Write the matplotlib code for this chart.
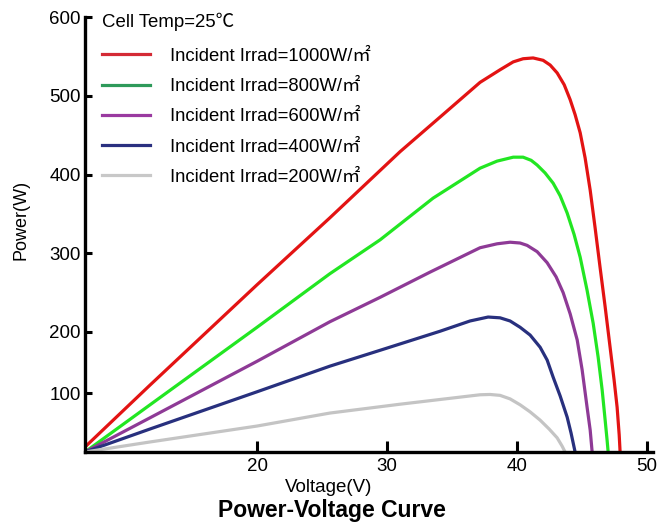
import numpy as np
import matplotlib as mpl
mpl.use('Agg')
import matplotlib.pyplot as plt
from matplotlib.lines import Line2D

plt.rcParams['font.family'] = ['Liberation Sans', 'Noto Sans CJK SC', 'DejaVu Sans']

# P-V curves (voltage V, power W)
v_1000 = [0, 7.56, 20, 25.6, 31.0, 34.08, 37.15, 38.69, 39.7, 40.46, 41.23, 42.0, 42.54, 43.08, 43.62, 44.08,
          44.46, 44.85, 45.23, 45.62, 46.0, 46.38, 46.77, 47.15, 47.46, 47.69, 47.85, 47.92]
p_1000 = [8.5, 113, 260, 345, 429, 473, 517, 533, 543, 547, 548, 545, 539, 529, 514, 495,
          476, 453, 421, 380, 332, 282, 232, 175, 121, 76, 29, 0]

v_800 = [0, 7.56, 20, 25.6, 29.46, 33.54, 37.15, 38.46, 39.7, 40.46, 41.08, 41.54, 42.15, 42.77, 43.31, 43.85,
         44.38, 44.85, 45.38, 45.85, 46.23, 46.54, 46.77, 46.92, 47.0]
p_800 = [0, 80, 206, 274, 317, 370, 408, 417, 422, 422, 418, 412, 402, 389, 373, 351,
         324, 295, 253, 211, 159, 105, 54, 20, 0]

v_600 = [0, 7.56, 20, 25.6, 29.46, 33.3, 37.15, 38.46, 39.46, 40.23, 40.77, 41.54, 42.31, 43.0, 43.54, 44.08,
         44.62, 45.0, 45.38, 45.62, 45.77]
p_600 = [0, 58, 152, 213, 244, 276, 307, 312, 314, 313, 310, 302, 288, 270, 250, 223,
         187, 138, 76, 37, 0]

v_400 = [0, 7.56, 20, 25.6, 29.46, 34.08, 36.38, 37.77, 38.69, 39.46, 40.23, 41.0, 41.77, 42.31, 42.77, 43.31,
         43.85, 44.15, 44.46]
p_400 = [0, 39, 102, 144, 170, 201, 214, 219, 218, 214, 206, 195, 175, 154, 126, 95,
         59, 32, 0]

v_200 = [0, 7.56, 20, 25.6, 31.0, 37.15, 37.92, 38.69, 39.46, 40.23, 41.0, 41.77, 42.46, 43.08, 43.46, 43.69]
p_200 = [0, 17, 44, 66, 81, 97, 97.5, 96, 90, 80, 68, 54, 39, 24, 10, 0]

labels = ['Incident Irrad=1000W/㎡', 'Incident Irrad=800W/㎡', 'Incident Irrad=600W/㎡',
          'Incident Irrad=400W/㎡', 'Incident Irrad=200W/㎡']
x_ticks = [20, 30, 40, 50]
y_ticks = [100, 200, 300, 400, 500, 600]

curve_colors = ['#e31313', '#22e622', '#8e3a96', '#28307e', '#c4c4c4']
legend_colors = ['#d42a35', '#2e9a5a', '#9a3aa0', '#2a3080', '#c8c8c8']

# the original axes are not linear, so use piecewise scales
xk = [0, 20, 60]
xd = [0, 172, 692]
yk = [0, 100, 200, 600]
yd = [0, 59, 120, 435]

fig = plt.figure(figsize=(6.65, 5.27), dpi=100)
ax = fig.add_axes([85/665, 1-452/527, 568/665, 435/527])
ax.set_xscale('function', functions=(lambda x: np.interp(x, xk, xd), lambda x: np.interp(x, xd, xk)))
ax.set_yscale('function', functions=(lambda y: np.interp(y, yk, yd), lambda y: np.interp(y, yd, yk)))

series = [(v_1000, p_1000), (v_800, p_800), (v_600, p_600), (v_400, p_400), (v_200, p_200)]
for (v, p), c in zip(series, curve_colors):
    ax.plot(v, p, color=c, lw=2.3, solid_joinstyle='round', solid_capstyle='round')

ax.set_xlim(0, 50.45)
ax.set_ylim(0, 600)
ax.set_xticks(x_ticks)
ax.set_yticks(y_ticks)
ax.minorticks_off()
for s in ['top', 'right']:
    ax.spines[s].set_visible(False)
for s in ['left', 'bottom']:
    ax.spines[s].set_linewidth(2.4)
ax.tick_params(axis='x', direction='in', length=8, width=2.2, pad=4, labelsize=13.5)
ax.tick_params(axis='y', direction='in', length=5, width=2.2, pad=3, labelsize=13.5)
for t, lab in zip(ax.yaxis.get_major_ticks(), y_ticks):
    if lab in (100, 300, 500):
        t.tick1line.set_color('#7a2f82')

handles = [Line2D([], [], color=c, lw=2.3) for c in legend_colors]
leg = ax.legend(handles, labels, title='Cell Temp=25℃', loc='upper left',
                bbox_to_anchor=(0.0, 1.048), frameon=False, fontsize=13.3,
                title_fontsize=13.4, handlelength=2.6, handletextpad=1.08,
                labelspacing=0.72, alignment='left')
leg._legend_box.sep = 12

fig.text(21/665, 1-220/527, 'Power(W)', rotation=90, ha='center', va='center', fontsize=13)
fig.text(329/665, 1-488/527, 'Voltage(V)', ha='center', va='center', fontsize=13.5)
fig.text(332/665, 1-511/527, 'Power-Voltage Curve', ha='center', va='center', fontsize=16.5, fontweight='bold')

fig.savefig('out.png', dpi=100)
